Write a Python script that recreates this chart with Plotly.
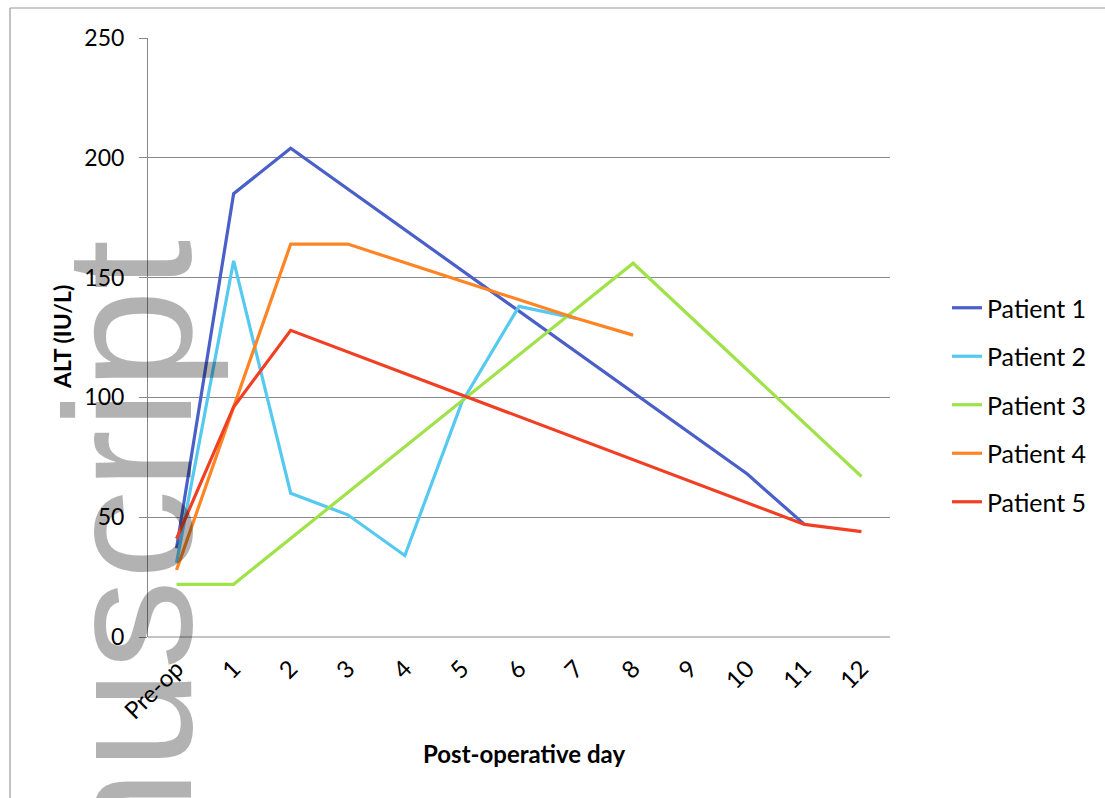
import plotly.graph_objects as go

# Post-operative ALT readings per patient (None = no sample that day)
days = ["Pre-op", "1", "2", "3", "4", "5", "6", "7", "8", "9", "10", "11", "12"]
patient_1 = [37, 185, 204, None, None, None, None, None, None, None, 68, 47, None]
patient_2 = [31, 157, 60, 51, 34, 98, 138, 133, None, None, None, None, None]
patient_3 = [22, 22, None, None, None, None, None, None, 156, None, None, None, 67]
patient_4 = [28, 96, 164, 164, None, None, 141, 133, 126, None, None, None, None]
patient_5 = [41, 96, 128, None, None, None, None, None, None, None, None, 47, 44]

series = [
    ("Patient 1", patient_1, "#4a5fc8"),
    ("Patient 2", patient_2, "#56c9f0"),
    ("Patient 3", patient_3, "#9fe24a"),
    ("Patient 4", patient_4, "#ff8424"),
    ("Patient 5", patient_5, "#f03f22"),
]

FONT = "Lato"
W, H = 1105, 798
L, R, T, B = 148, 215, 38, 161
pw, ph = W - L - R, H - T - B


def px_x(x):
    return (x - L) / pw


def px_y(y):
    return (H - B - y) / ph


fig = go.Figure()
for i, (name, vals, color) in enumerate(series):
    fig.add_trace(go.Scatter(
        x=days, y=vals, name=name, mode="lines", connectgaps=True,
        line=dict(color=color, width=3.2), legendgroup=f"g{i}",
    ))

fig.update_layout(
    width=W, height=H,
    margin=dict(l=L, r=R, t=T, b=B, pad=0),
    paper_bgcolor="white", plot_bgcolor="white",
    font=dict(family=FONT, size=22, color="black"),
    showlegend=True,
    legend=dict(
        x=px_x(947), y=px_y(405), xanchor="left", yanchor="middle",
        font=dict(family=FONT, size=25, color="black"),
        tracegroupgap=13, traceorder="grouped", bgcolor="rgba(0,0,0,0)",
    ),
    xaxis=dict(
        type="category", range=[-0.5, 12.5], showgrid=False,
        showline=False, zeroline=False, ticks="", tickangle=-45,
        ticklabelstandoff=12,
        tickfont=dict(family=FONT, size=24),
    ),
    yaxis=dict(
        range=[0, 250], dtick=50, showgrid=True, gridcolor="#888888", gridwidth=1,
        showline=True, linecolor="#888888", linewidth=1, zeroline=False,
        ticks="outside", ticklen=8, tickcolor="#888888",
        ticklabelstandoff=10, tickfont=dict(family=FONT, size=23),
    ),
)

# x-axis baseline
fig.add_shape(type="line", xref="paper", yref="paper", x0=0, x1=1, y0=0, y1=0,
              line=dict(color="#888888", width=1))

# outer chart frame (left and top edges)
fig.add_shape(type="line", xref="paper", yref="paper",
              x0=px_x(10), x1=px_x(10), y0=px_y(8), y1=px_y(820),
              line=dict(color="#999999", width=1.2))
fig.add_shape(type="line", xref="paper", yref="paper",
              x0=px_x(10), x1=px_x(1120), y0=px_y(8), y1=px_y(8),
              line=dict(color="#999999", width=1.2))

# axis titles
fig.add_annotation(text="<b>ALT (IU/L)</b>", xref="paper", yref="paper",
                   x=px_x(62), y=px_y(337), xanchor="center", yanchor="middle",
                   textangle=-90, showarrow=False,
                   font=dict(family=FONT, size=23, color="black"))
fig.add_annotation(text="<b>Post-operative day</b>", xref="paper", yref="paper",
                   x=px_x(524), y=px_y(753), xanchor="center", yanchor="middle",
                   showarrow=False, font=dict(family=FONT, size=24, color="black"))

# journal watermark
fig.add_annotation(text="Manuscript", xref="paper", yref="paper",
                   x=px_x(128), y=px_y(238), xanchor="center", yanchor="top",
                   textangle=-90, showarrow=False,
                   font=dict(family="Liberation Sans", size=180,
                             color="rgba(0,0,0,0.3)"))

fig.write_html("out.html")
